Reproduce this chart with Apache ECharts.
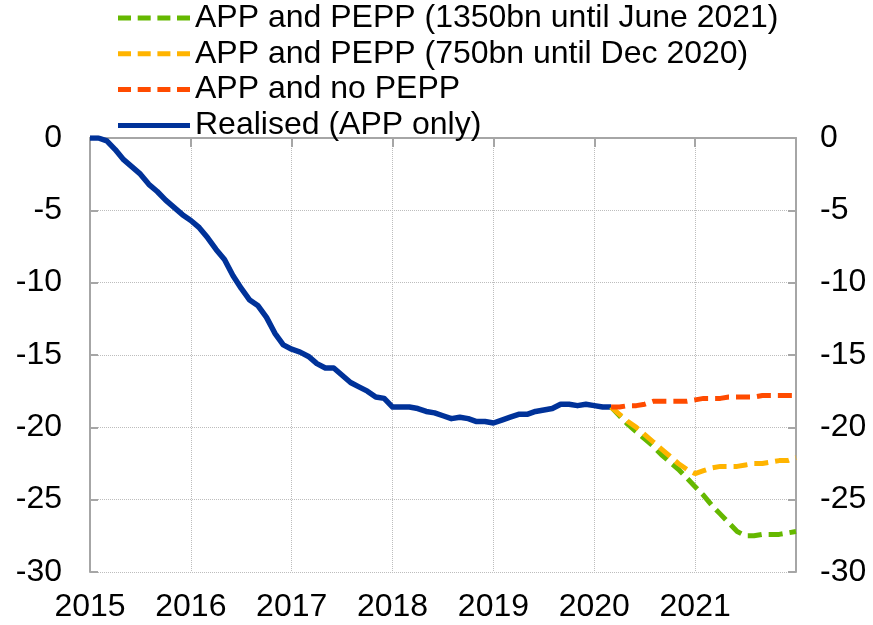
<!DOCTYPE html>
<html>
<head>
<meta charset="utf-8">
<script src="https://cdn.jsdelivr.net/npm/echarts@6/dist/echarts.min.js"></script>
<style>
  html, body { margin: 0; padding: 0; background: #fff; }
  #chart { width: 873px; height: 625px; }
</style>
</head>
<body>
<div id="chart"></div>
<script>
// monthly observations, first point = Jan 2015
var startYear = 2015
var projStartMonth = 62 // Mar 2020, where the scenarios branch off

var yearTicks = [2015, 2016, 2017, 2018, 2019, 2020, 2021]

var realised = [
  0, 0, -0.2, -0.8, -1.5, -2.0, -2.5, -3.2, -3.7, -4.3, -4.8, -5.3,
  -5.7, -6.2, -6.9, -7.7, -8.4, -9.5, -10.4, -11.2, -11.6, -12.4, -13.5, -14.3,
  -14.6, -14.8, -15.1, -15.6, -15.9, -15.9, -16.4, -16.9, -17.2, -17.5, -17.9, -18.0,
  -18.6, -18.6, -18.6, -18.7, -18.9, -19.0, -19.2, -19.4, -19.3, -19.4, -19.6, -19.6,
  -19.7, -19.5, -19.3, -19.1, -19.1, -18.9, -18.8, -18.7, -18.4, -18.4, -18.5, -18.4,
  -18.5, -18.6, -18.6
]

var noPepp = [
  -18.6, -18.6, -18.5, -18.5, -18.4, -18.2, -18.2, -18.2, -18.2, -18.2, -18.1, -18.0,
  -18.0, -18.0, -17.9, -17.9, -17.9, -17.9, -17.8, -17.8, -17.8, -17.8, -17.8
]

var pepp750 = [
  -18.6, -19.1, -19.6, -20.0, -20.5, -21.0, -21.5, -22.0, -22.5, -22.9, -23.2, -23.0,
  -22.8, -22.7, -22.7, -22.7, -22.6, -22.5, -22.5, -22.4, -22.3, -22.3, -22.1
]

var pepp1350 = [
  -18.6, -19.2, -19.8, -20.3, -20.8, -21.3, -21.9, -22.4, -22.9, -23.5, -24.1, -24.7,
  -25.4, -26.0, -26.6, -27.2, -27.5, -27.5, -27.4, -27.4, -27.4, -27.3, -27.2
]

var names = [
  'APP and PEPP (1350bn until June 2021)',
  'APP and PEPP (750bn until Dec 2020)',
  'APP and no PEPP',
  'Realised (APP only)'
]

function toPoints(values, offset) {
  return values.map(function (v, i) {
    return [startYear + (offset + i) / 12, v]
  })
}

var chart = echarts.init(document.getElementById('chart'))

var fontFamily = 'Arial, "Liberation Sans", sans-serif'
var axisGray = '#a6a6a6'
var gridGray = '#bdbdbd'

// legend icons: four short dashes / one solid bar
var dashIcon = 'path://M0,0h13v5h-13z M19.7,0h13v5h-13z M39.4,0h13v5h-13z M59,0h13v5h-13z'
var solidIcon = 'path://M0,0h72v5h-72z'

function yAxisCfg(pos, margin, split) {
  return {
    type: 'value',
    position: pos,
    min: -30,
    max: 0,
    interval: 5,
    axisLine: { show: true, lineStyle: { color: axisGray, width: 2 } },
    axisTick: { show: true, inside: true, length: 8, lineStyle: { color: axisGray, width: 2 } },
    axisLabel: { fontSize: 32, color: '#000', fontFamily: fontFamily, margin: margin },
    splitLine: {
      show: split,
      lineStyle: { color: gridGray, type: 'dotted', width: 1 }
    }
  }
}

function dashed(name, color, values) {
  return {
    name: name,
    type: 'line',
    data: toPoints(values, projStartMonth),
    showSymbol: false,
    symbol: 'none',
    color: color,
    lineStyle: { color: color, width: 5, type: [14, 7] }
  }
}

chart.setOption({
  animation: false,
  textStyle: { fontFamily: fontFamily },
  grid: { left: 90, right: 77, top: 138, bottom: 53 },
  legend: {
    orient: 'vertical',
    left: 118,
    top: 2,
    padding: 0,
    itemWidth: 72,
    itemHeight: 5,
    itemGap: 3.8,
    data: [
      { name: names[0], icon: dashIcon },
      { name: names[1], icon: dashIcon },
      { name: names[2], icon: dashIcon },
      { name: names[3], icon: solidIcon }
    ],
    textStyle: { fontSize: 32, color: '#000', fontFamily: fontFamily, lineHeight: 32 }
  },
  xAxis: {
    type: 'value',
    min: 2015,
    max: 2022,
    interval: 1,
    axisLine: { show: true, lineStyle: { color: axisGray, width: 2 } },
    axisTick: { show: true, length: 9, lineStyle: { color: axisGray, width: 2 } },
    axisLabel: {
      fontSize: 32,
      color: '#000',
      fontFamily: fontFamily,
      margin: 19,
      formatter: function (v) {
        return yearTicks.indexOf(v) >= 0 ? String(v) : ''
      }
    },
    splitLine: { show: true, lineStyle: { color: gridGray, type: 'dotted', width: 1 } }
  },
  yAxis: [yAxisCfg('left', 28, true), yAxisCfg('right', 24, false)],
  series: [
    {
      name: names[3],
      type: 'line',
      data: toPoints(realised, 0),
      showSymbol: false,
      symbol: 'none',
      color: '#003299',
      lineStyle: { color: '#003299', width: 5.5, join: 'round' }
    },
    dashed(names[0], '#65b800', pepp1350),
    dashed(names[1], '#ffb400', pepp750),
    dashed(names[2], '#ff4b00', noPepp)
  ]
})
</script>
</body>
</html>
